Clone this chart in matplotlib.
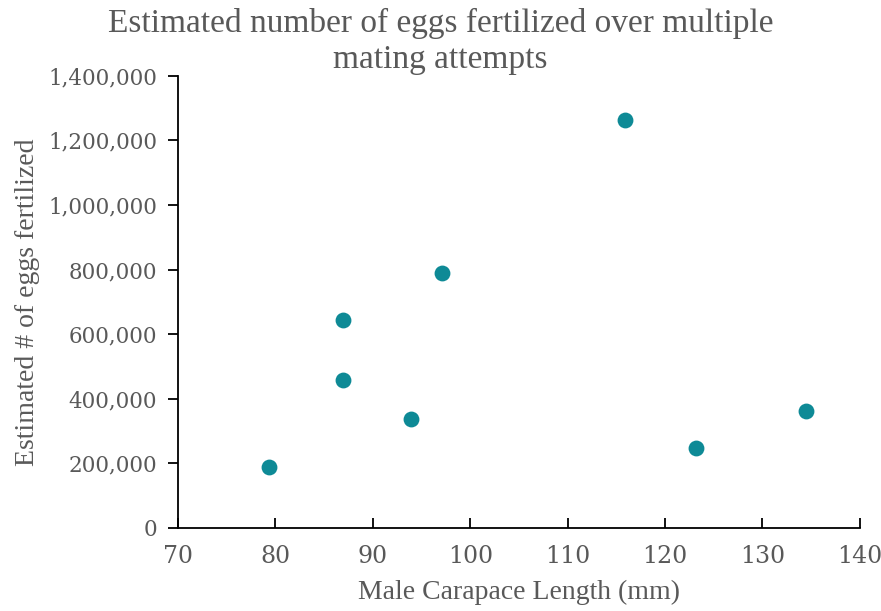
import matplotlib
matplotlib.use("Agg")
import matplotlib.pyplot as plt
from matplotlib.ticker import FuncFormatter

carapace_mm = [79.3, 86.9, 86.9, 93.9, 97.1, 115.9, 123.2, 134.5]
eggs_fertilized = [190000, 458000, 645000, 337000, 790000, 1263000, 247000, 363000]

x_ticks = [70, 80, 90, 100, 110, 120, 130, 140]
y_ticks = [0, 200000, 400000, 600000, 800000, 1000000, 1200000, 1400000]

title_lines = ["Estimated number of eggs fertilized over multiple", "mating attempts"]
xlabel = "Male Carapace Length (mm)"
ylabel = "Estimated # of eggs fertilized"

gray = "#595959"
teal = "#0E8A96"

fig = plt.figure(figsize=(8.81, 6.11), dpi=100)
ax = fig.add_axes([0.202, 0.136, 0.774, 0.740])

ax.scatter(carapace_mm, eggs_fertilized, s=130, color=teal, zorder=3, linewidths=0)

ax.set_xlim(70, 140)
ax.set_ylim(0, 1400000)
ax.set_xticks(x_ticks)
ax.set_yticks(y_ticks)
ax.yaxis.set_major_formatter(FuncFormatter(lambda v, p: f"{int(v):,}"))

for s in ["top", "right"]:
    ax.spines[s].set_visible(False)
for s in ["left", "bottom"]:
    ax.spines[s].set_color("black")
    ax.spines[s].set_linewidth(1.3)

ax.tick_params(axis="x", direction="in", length=7, width=1.3, colors="black",
               labelcolor=gray, labelsize=17, pad=12)
ax.tick_params(axis="y", direction="out", length=7, width=1.3, colors="black",
               labelcolor=gray, labelsize=15.5, pad=8)
for lab in ax.get_xticklabels() + ax.get_yticklabels():
    lab.set_fontfamily("DejaVu Serif")

ax.set_xlabel(xlabel, fontsize=20, color=gray, family="Liberation Serif", labelpad=9)
ax.set_ylabel(ylabel, fontsize=20, color=gray, family="Liberation Serif", labelpad=6)

fig.text(0.5, 1 - 23 / 611, title_lines[0], ha="center", va="center", fontsize=24,
         color=gray, family="Liberation Serif")
fig.text(0.5, 1 - 60 / 611, title_lines[1], ha="center", va="center", fontsize=24,
         color=gray, family="Liberation Serif")

fig.savefig("out.png", dpi=100)
